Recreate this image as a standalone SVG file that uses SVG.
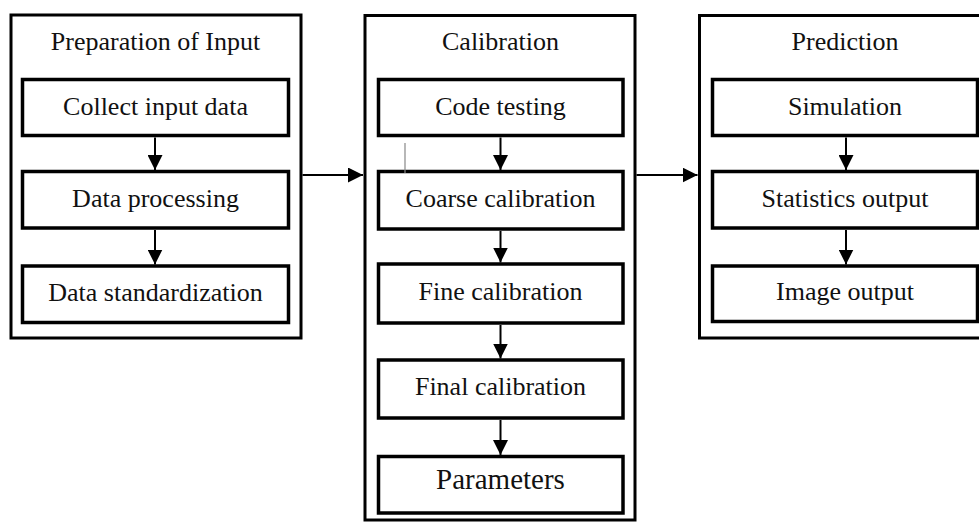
<svg xmlns="http://www.w3.org/2000/svg" width="979" height="523" viewBox="0 0 979 523">
  <style>
    .stage { fill: #fff; stroke: #000; stroke-width: 3; }
    .step { fill: #fff; stroke: #000; stroke-width: 3.5; }
    .label { font-family: "Liberation Serif", "Times New Roman", serif; font-size: 26px; fill: #111; text-anchor: middle; }
    .link { stroke: #000; stroke-width: 2; fill: none; marker-end: url(#arrow); }
  </style>
  <defs>
    <marker id="arrow" markerUnits="userSpaceOnUse" markerWidth="16" markerHeight="15" refX="15" refY="7.5" orient="auto">
      <path d="M0,0 L15,7.5 L0,15 Z" fill="#000"/>
    </marker>
  </defs>
  <rect width="979" height="523" fill="#fff"/>

  <!-- Stage 1 -->
  <g id="preparation">
    <rect class="stage" x="11" y="15" width="290" height="323"/>
    <text class="label" x="155.5" y="50">Preparation of Input</text>
  </g>
  <g id="collect">
    <rect class="step" x="22.5" y="79.5" width="266" height="56"/>
    <text class="label" x="155.5" y="115">Collect input data</text>
  </g>
  <g id="processing">
    <rect class="step" x="22.5" y="171.5" width="266" height="56.5"/>
    <text class="label" x="155.5" y="207">Data processing</text>
  </g>
  <g id="standardization">
    <rect class="step" x="22.5" y="266" width="266" height="56.5"/>
    <text class="label" x="155.5" y="301">Data standardization</text>
  </g>

  <!-- Stage 2 -->
  <g id="calibration">
    <rect class="stage" x="365" y="15.5" width="270" height="504.5"/>
    <text class="label" x="500.5" y="50">Calibration</text>
  </g>
  <g id="code-testing">
    <rect class="step" x="378.5" y="79.5" width="244.5" height="56"/>
    <text class="label" x="500.5" y="115">Code testing</text>
  </g>
  <g id="coarse">
    <rect class="step" x="378.5" y="171.5" width="244.5" height="57.5"/>
    <text class="label" x="500.5" y="207">Coarse calibration</text>
  </g>
  <g id="fine">
    <rect class="step" x="378.5" y="264" width="244.5" height="59"/>
    <text class="label" x="500.5" y="300">Fine calibration</text>
  </g>
  <g id="final">
    <rect class="step" x="378.5" y="360" width="244.5" height="58"/>
    <text class="label" x="500.5" y="395">Final calibration</text>
  </g>
  <g id="parameters">
    <rect class="step" x="378.5" y="456.5" width="244.5" height="56.5"/>
    <text class="label" x="500.5" y="489" style="font-size:29px">Parameters</text>
  </g>

  <!-- Stage 3 -->
  <g id="prediction">
    <rect class="stage" x="699.5" y="15.5" width="300" height="322.5"/>
    <text class="label" x="845" y="50">Prediction</text>
  </g>
  <g id="simulation">
    <rect class="step" x="712.5" y="79.5" width="265" height="56"/>
    <text class="label" x="845" y="115">Simulation</text>
  </g>
  <g id="statistics">
    <rect class="step" x="712.5" y="171.5" width="265" height="56.5"/>
    <text class="label" x="845" y="207">Statistics output</text>
  </g>
  <g id="image-output">
    <rect class="step" x="712.5" y="266" width="265" height="55.5"/>
    <text class="label" x="845" y="300">Image output</text>
  </g>

  <!-- Connectors -->
  <g id="connectors">
    <line class="link" x1="155" y1="137.5" x2="155" y2="170"/>
    <line class="link" x1="155" y1="230" x2="155" y2="264.5"/>
    <line class="link" x1="302.5" y1="175" x2="363" y2="175"/>
    <line class="link" x1="500.5" y1="137.5" x2="500.5" y2="170"/>
    <line class="link" x1="500.5" y1="231" x2="500.5" y2="262.5"/>
    <line class="link" x1="500.5" y1="325" x2="500.5" y2="358.5"/>
    <line class="link" x1="500.5" y1="420" x2="500.5" y2="455"/>
    <line class="link" x1="636.5" y1="175" x2="697.5" y2="175"/>
    <line class="link" x1="846" y1="137.5" x2="846" y2="170"/>
    <line class="link" x1="846" y1="230" x2="846" y2="264.5"/>
    <line x1="405" y1="143" x2="405" y2="173" stroke="#888" stroke-width="1.2"/>
  </g>
</svg>
